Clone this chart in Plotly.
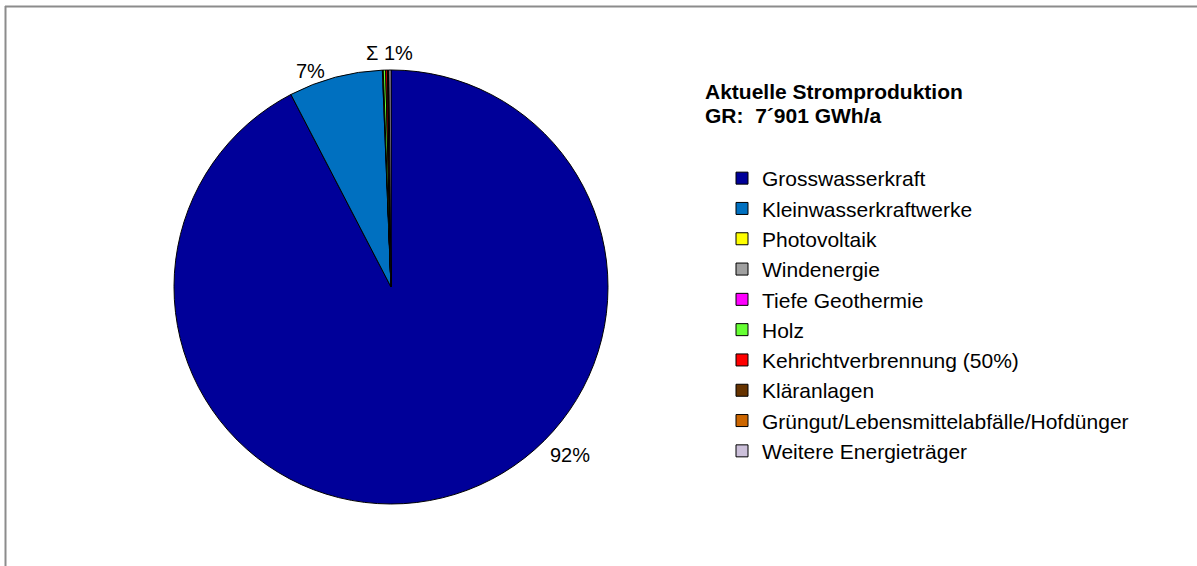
import plotly.graph_objects as go

# Stromproduktion Graubünden nach Energieträger (GWh/a)
categories = [
    "Grosswasserkraft",
    "Kleinwasserkraftwerke",
    "Photovoltaik",
    "Windenergie",
    "Tiefe Geothermie",
    "Holz",
    "Kehrichtverbrennung (50%)",
    "Kläranlagen",
    "Grüngut/Lebensmittelabfälle/Hofdünger",
    "Weitere Energieträger",
]
production_gwh = [7298, 553, 4, 1, 0, 14, 10, 6, 3, 12]
slice_colors = [
    "#000099", "#0070C0", "#FFFF00", "#A0A0A0", "#FF00FF",
    "#66FF33", "#FF0000", "#663300", "#CC6600", "#CCC0DA",
]

total = sum(production_gwh)
share_large = round(production_gwh[0] / total * 100)
share_small = round(production_gwh[1] / total * 100)
share_rest = round(sum(production_gwh[2:]) / total * 100)

W, H = 1197, 566
FONT = "Liberation Sans, Arial, sans-serif"


def px(x):
    return x / W


def py(y):
    return 1 - y / H


fig = go.Figure(
    go.Pie(
        labels=categories,
        values=production_gwh,
        sort=False,
        direction="clockwise",
        rotation=0,
        textinfo="none",
        marker=dict(colors=slice_colors, line=dict(color="black", width=1)),
        domain=dict(x=[px(174), px(608)], y=[py(504), py(70)]),
        hovertemplate="%{label}: %{value} GWh/a (%{percent})<extra></extra>",
    )
)

total_txt = f"{total:,}".replace(",", "´")
title_lines = [
    ("<b>Aktuelle Stromproduktion</b>", 91),
    (f"<b>GR:\u00a0\u00a0{total_txt} GWh/a</b>", 115),
]

annotations = []
for text, ypos in title_lines:
    annotations.append(dict(
        x=px(703), y=py(ypos), xanchor="left", yanchor="middle", align="left",
        text=text, font=dict(size=21, color="black", family=FONT),
    ))

pct_labels = [
    (f"{share_large}%", 570, 455),
    (f"{share_small}%", 310, 71),
    (f"Σ {share_rest}%", 389, 53),
]
for text, xpos, ypos in pct_labels:
    annotations.append(dict(
        x=px(xpos), y=py(ypos), xanchor="center", yanchor="middle",
        text=text, font=dict(size=20, color="black", family=FONT),
    ))
for a in annotations:
    a.update(xref="paper", yref="paper", showarrow=False)

# Chart frame: only top and left edges are drawn
frame = dict(type="line", xref="paper", yref="paper",
             line=dict(color="#8C8C8C", width=2))
shapes = [
    dict(frame, x0=px(5), y0=py(6.5), x1=px(1197), y1=py(6.5)),
    dict(frame, x0=px(5.5), y0=py(6), x1=px(5.5), y1=py(566)),
]

fig.update_layout(
    width=W,
    height=H,
    margin=dict(l=0, r=0, t=0, b=0),
    paper_bgcolor="white",
    plot_bgcolor="white",
    font=dict(family=FONT, color="black"),
    showlegend=True,
    legend=dict(
        x=px(722), y=py(158), xanchor="left", yanchor="top",
        font=dict(size=21, color="black", family=FONT),
        bgcolor="rgba(0,0,0,0)", traceorder="normal",
    ),
    annotations=annotations,
    shapes=shapes,
)

fig.write_html("out.html")
